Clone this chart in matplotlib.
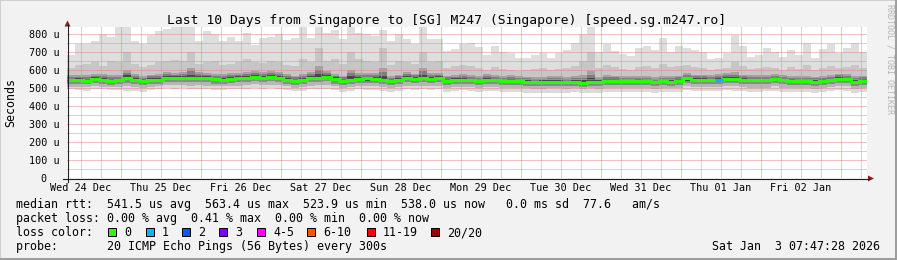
import numpy as np
import pandas as pd
import matplotlib
matplotlib.use('Agg')
import matplotlib.pyplot as plt
import matplotlib.dates as mdates
from matplotlib.patches import Rectangle, Polygon
from matplotlib.lines import Line2D

W, H = 897, 260

# ---- data (one value per 2.4 h step) ----
start = pd.Timestamp('2025-12-24 07:47:28')
step = '144min'

median = [541, 541, 539, 546, 543, 539, 540, 552, 543, 537, 543, 544, 555, 553, 556, 552, 553, 552, 546, 545,
          550, 552, 556, 561, 555, 559, 555, 545, 537, 541, 552, 553, 559, 546, 537, 545, 550, 551, 550, 543,
          536, 542, 552, 549, 552, 550, 552, 537, 541, 545, 540, 535, 545, 540, 535, 539, 535, 533, 530, 530,
          533, 533, 530, 534, 528, 533, 532, 539, 539, 535, 536, 537, 535, 530, 535, 534, 538, 551, 544, 543,
          541, 545, 550, 546, 543, 540, 540, 540, 546, 540, 537, 535, 535, 533, 537, 541, 550, 546, 533, 538]
ping_max = [680, 740, 740, 760, 800, 780, 838, 838, 760, 740, 790, 815, 825, 835, 838, 835, 760, 815, 800, 760,
            780, 760, 804, 735, 776, 780, 800, 765, 776, 835, 776, 840, 804, 820, 770, 840, 804, 800, 785, 820,
            760, 800, 770, 740, 840, 770, 770, 705, 715, 740, 748, 725, 680, 729, 700, 690, 665, 665, 680, 692,
            665, 690, 710, 748, 800, 835, 700, 740, 705, 685, 675, 720, 730, 710, 776, 700, 730, 720, 710, 700,
            660, 665, 690, 790, 730, 670, 680, 720, 700, 670, 710, 680, 750, 665, 715, 740, 690, 720, 745, 700]
ping_p90 = [610, 625, 630, 640, 620, 650, 640, 700, 630, 615, 625, 640, 650, 655, 645, 700, 630, 640, 650, 625,
            630, 640, 660, 640, 635, 650, 640, 625, 620, 660, 640, 720, 650, 660, 630, 700, 660, 650, 640, 720,
            625, 650, 640, 630, 700, 640, 645, 610, 620, 625, 620, 610, 600, 615, 605, 600, 595, 600, 605, 610,
            600, 605, 610, 620, 650, 700, 610, 625, 615, 605, 600, 615, 620, 610, 630, 615, 620, 625, 615, 610,
            600, 605, 610, 640, 620, 605, 610, 615, 610, 600, 615, 605, 625, 600, 610, 620, 610, 615, 625, 610]
ping_p75 = [570, 572, 568, 578, 574, 570, 572, 600, 575, 566, 572, 575, 585, 583, 588, 610, 585, 582, 576, 575,
            580, 583, 588, 592, 585, 590, 585, 575, 567, 575, 585, 620, 590, 578, 567, 600, 582, 582, 580, 610,
            566, 572, 585, 578, 610, 580, 582, 567, 571, 575, 570, 564, 574, 568, 563, 568, 563, 561, 558, 560,
            562, 562, 559, 564, 570, 590, 560, 568, 567, 563, 564, 566, 563, 558, 565, 563, 567, 580, 573, 572,
            569, 574, 579, 585, 572, 568, 568, 569, 575, 568, 565, 563, 563, 561, 566, 570, 578, 575, 562, 567]
ping_p25 = [520, 520, 518, 524, 521, 517, 518, 528, 521, 515, 521, 522, 532, 530, 533, 529, 530, 529, 523, 522,
            527, 529, 533, 537, 532, 536, 532, 522, 515, 519, 529, 530, 535, 523, 515, 522, 527, 528, 527, 520,
            514, 519, 529, 526, 529, 527, 529, 515, 519, 522, 518, 513, 522, 518, 513, 517, 513, 511, 508, 508,
            511, 511, 508, 512, 506, 511, 510, 517, 517, 513, 514, 515, 513, 508, 513, 512, 516, 528, 522, 521,
            519, 523, 527, 524, 521, 518, 518, 518, 524, 518, 515, 513, 513, 511, 515, 519, 527, 524, 511, 516]
ping_p10 = [505, 506, 504, 508, 506, 503, 504, 510, 505, 500, 505, 507, 514, 513, 515, 512, 513, 512, 508, 507,
            510, 512, 515, 518, 514, 516, 514, 507, 500, 503, 512, 513, 516, 507, 500, 506, 510, 511, 510, 505,
            499, 504, 512, 509, 512, 510, 512, 500, 503, 506, 502, 498, 506, 502, 498, 501, 498, 496, 493, 493,
            496, 496, 493, 497, 491, 496, 495, 501, 501, 498, 499, 500, 498, 493, 498, 497, 500, 510, 505, 504,
            502, 506, 510, 507, 504, 501, 501, 501, 507, 501, 499, 497, 497, 495, 499, 502, 510, 507, 495, 500]
ping_min = [490, 488, 482, 495, 490, 485, 487, 480, 484, 478, 485, 490, 497, 495, 498, 494, 493, 495, 488, 486,
            490, 492, 495, 497, 493, 496, 494, 485, 480, 484, 492, 490, 494, 486, 478, 484, 490, 489, 488, 482,
            478, 484, 490, 487, 490, 488, 490, 478, 481, 485, 482, 476, 484, 480, 476, 478, 475, 472, 470, 470,
            473, 472, 470, 475, 468, 473, 472, 478, 478, 475, 476, 478, 476, 472, 476, 475, 478, 488, 484, 482,
            480, 484, 486, 484, 482, 478, 478, 479, 484, 478, 476, 474, 474, 472, 476, 479, 486, 484, 472, 476]
loss = [0, 0, 0, 0, 0, 0, 0, 0, 0, 0, 0, 0, 0, 0, 0, 0, 0, 0, 0, 0,
        0, 0, 0, 0, 0, 0, 0, 0, 0, 0, 0, 0, 0, 0, 0, 0, 0, 0, 0, 0,
        0, 0, 0, 0, 0, 0, 0, 0, 0, 0, 0, 0, 0, 0, 0, 0, 0, 0, 0, 0,
        0, 0, 0, 0, 0, 0, 0, 0, 0, 0, 0, 0, 0, 0, 0, 0, 0, 0, 0, 0,
        0, 1, 0, 0, 0, 0, 0, 0, 0, 0, 0, 0, 0, 0, 0, 0, 0, 0, 0, 0]

y_ticks = [0, 100, 200, 300, 400, 500, 600, 700, 800]
y_labels = ['0  ', '100 u', '200 u', '300 u', '400 u', '500 u', '600 u', '700 u', '800 u']
day_labels = ['Wed 24 Dec', 'Thu 25 Dec', 'Fri 26 Dec', 'Sat 27 Dec', 'Sun 28 Dec',
              'Mon 29 Dec', 'Tue 30 Dec', 'Wed 31 Dec', 'Thu 01 Jan', 'Fri 02 Jan']
loss_labels = ['0', '1', '2', '3', '4-5', '6-10', '11-19', '20/20']
loss_colors = ['#26ff00', '#00b8ff', '#0059ff', '#7e00ff', '#ff00ff', '#ff5500', '#ff0000', '#a10000']
loss_upper = [0, 1, 2, 3, 5, 10, 19, 20]

title = 'Last 10 Days from Singapore to [SG] M247 (Singapore) [speed.sg.m247.ro]'
legend_rows = ['median rtt:  541.5 us avg  563.4 us max  523.9 us min  538.0 us now   0.0 ms sd  77.6   am/s',
               'packet loss: 0.00 % avg  0.41 % max  0.00 % min  0.00 % now',
               'loss color:',
               'probe:       20 ICMP Echo Pings (56 Bytes) every 300s']
stamp = 'Sat Jan  3 07:47:28 2026'

# ---- layout helpers (pixel -> figure fraction) ----
def fx(px):
    return px / W

def fy(py):
    return 1 - py / H

mono = 'DejaVu Sans Mono'
plt.rcParams['font.family'] = mono

fig = plt.figure(figsize=(W / 100, H / 100), dpi=100, facecolor='#f2f2f2')
ax = fig.add_axes([fx(67), fy(178), 800 / W, (178 - 27) / H])
ax.set_facecolor('white')
for s in ax.spines.values():
    s.set_visible(False)

times = pd.date_range(start, periods=len(median) + 1, freq=step)
x = mdates.date2num(times.values)

def ext(v):
    return np.append(np.asarray(v, float), v[-1])

med = ext(median)
p75 = ext(ping_p75)
p25 = ext(ping_p25)

# smoke: outer bands light, inner bands dark (shade steps between quantiles)
bands = [(ext(ping_min), ext(ping_p10), '#dadada'),
         (ext(ping_p10), p25, '#b6b6b6'),
         (p25, (p25 + med) / 2, '#8a8a8a'),
         ((p25 + med) / 2, med, '#474747'),
         (med, med + (p75 - med) / 3, '#474747'),
         (med + (p75 - med) / 3, med + 2 * (p75 - med) / 3, '#7e7e7e'),
         (med + 2 * (p75 - med) / 3, p75, '#a2a2a2'),
         (p75, ext(ping_p90), '#c6c6c6'),
         (ext(ping_p90), ext(ping_max), '#dedede')]
for lo, hi, c in bands:
    ax.fill_between(x, lo, hi, step='post', color=c, lw=0, antialiased=False, zorder=1)

ymax = 836
ax.set_xlim(x[0], x[-1])
ax.set_ylim(0, ymax)

# grid (rrdtool style 1:1 dotted)
days = pd.date_range('2025-12-25', '2026-01-03', freq='D')
six = pd.date_range('2025-12-24 12:00', '2026-01-03 06:00', freq='6h')
six = six[six.hour != 0]
grid_kw = dict(lw=0.72, dashes=(1, 1), antialiased=True, zorder=2)
for t in mdates.date2num(six.values):
    ax.axvline(t, color='#a8a8a8', **grid_kw)
for v in np.arange(50, 850, 100):
    ax.axhline(v, color='#a8a8a8', **grid_kw)
for t in mdates.date2num(days.values):
    ax.axvline(t, color='#e88080', **grid_kw)
for v in y_ticks[1:]:
    ax.axhline(v, color='#e88080', **grid_kw)

# median line, coloured by loss
def loss_color(n):
    for lim, c in zip(loss_upper, loss_colors):
        if n <= lim:
            return c
    return loss_colors[-1]

ax.plot(x, med, drawstyle='steps-post', color=loss_colors[0], lw=2.2,
        solid_capstyle='butt', solid_joinstyle='miter', zorder=4)
for k, n in enumerate(loss):
    if n > 0:
        ax.hlines(median[k], x[k], x[k + 1], colors=loss_color(n), lw=2.2, zorder=5)

# ticks
noons = pd.date_range('2025-12-24 12:00', periods=len(day_labels), freq='D')
ax.set_xticks(mdates.date2num(noons.values))
ax.set_xticklabels(day_labels)
ax.set_yticks(y_ticks)
ax.set_yticklabels(y_labels)
ax.tick_params(axis='both', length=0, labelsize=7.25, colors='black')
ax.tick_params(axis='x', pad=3.4)
ax.tick_params(axis='y', pad=5.2)

# axes lines and arrows
fig.add_artist(Line2D([fx(63), fx(868)], [fy(178.5), fy(178.5)], color='#1f1f1f', lw=0.8))
fig.add_artist(Line2D([fx(67.5), fx(67.5)], [fy(182), fy(25)], color='#1f1f1f', lw=0.8))
fig.add_artist(Polygon([(fx(64.5), fy(26.5)), (fx(70.5), fy(26.5)), (fx(67.5), fy(20.5))],
                       closed=True, color='#8c1818', lw=0))
fig.add_artist(Polygon([(fx(868), fy(175.5)), (fx(868), fy(181.5)), (fx(874), fy(178.5))],
                       closed=True, color='#8c1818', lw=0))

# texts
fig.text(fx(447), fy(23.8), title, ha='center', va='baseline', fontsize=9.4, family=mono)
fig.text(fx(10.5), fy(102.5), 'Seconds', rotation=90, ha='center', va='center', fontsize=8.4, family=mono)
fig.text(fx(890), fy(4), 'RRDTOOL / TOBI OETIKER', rotation=270, ha='center', va='top',
         fontsize=6, color='#b4b4b4', family=mono)

baselines = [207.8, 221.9, 236.0, 250.1]
for row, b in zip(legend_rows, baselines):
    fig.text(fx(16), fy(b), row, ha='left', va='baseline', fontsize=8.4, family=mono)
fig.text(fx(880), fy(250.1), stamp, ha='right', va='baseline', fontsize=8.4, family=mono)

box_x = [108, 146, 182, 219, 257, 307, 367, 431]
for bx, lab, c in zip(box_x, loss_labels, loss_colors):
    fig.add_artist(Rectangle((fx(bx), fy(236)), 8 / W, 8 / H, facecolor=c, edgecolor='black', lw=0.72))
    fig.text(fx(bx + 16), fy(236.0), lab, ha='left', va='baseline', fontsize=8.4, family=mono)

# frame
fig.add_artist(Line2D([0, 0], [0, 1], color='#cfcfcf', lw=1.4))
fig.add_artist(Line2D([0, 1], [1, 1], color='#cfcfcf', lw=1.4))
fig.add_artist(Line2D([1, 1], [0, 1], color='#9e9e9e', lw=2.9))
fig.add_artist(Line2D([0, 1], [0, 0], color='#9e9e9e', lw=2.9))

fig.savefig('out.png', dpi=100, facecolor=fig.get_facecolor())
